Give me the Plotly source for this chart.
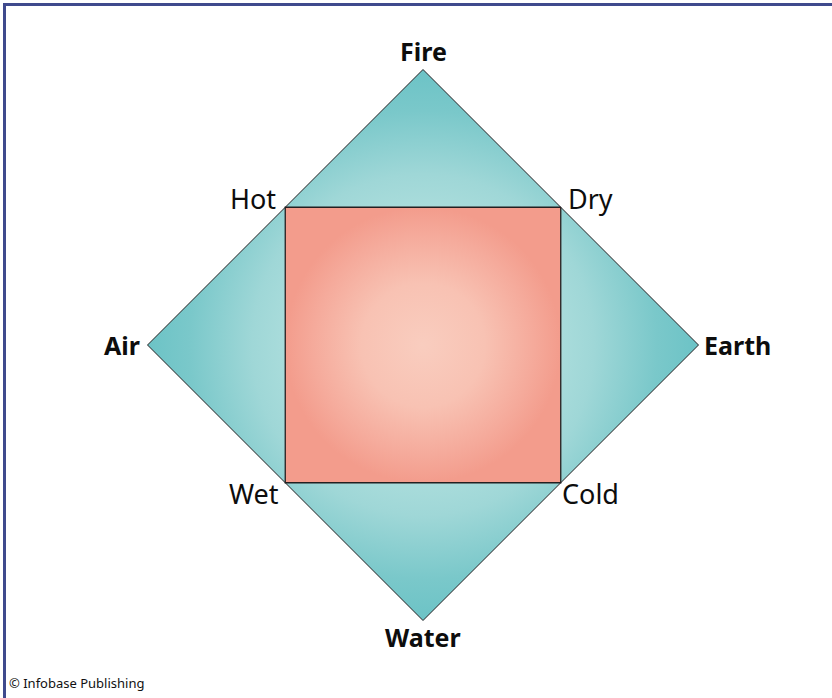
import numpy as np
import plotly.graph_objects as go

# --- data: the four elements at the diamond's vertices, four qualities at the square's corners
elements = ["Fire", "Earth", "Water", "Air"]
element_angles_deg = [90, 0, 270, 180]
qualities = ["Dry", "Cold", "Wet", "Hot"]
quality_angles_deg = [45, 315, 225, 135]
copyright_text = "© Infobase Publishing"

# unit geometry: diamond radius 1, square corners at the diamond's edge midpoints
R = 1.0
ea = np.radians(element_angles_deg)
ex = R * np.cos(ea)
ey = R * np.sin(ea)
qa = np.radians(quality_angles_deg)
qr = R / np.sqrt(2)
qx = qr * np.cos(qa)
qy = qr * np.sin(qa)

TEAL_SCALE = [[0.0, "#c9ecea"], [0.5, "#a9dcdb"], [0.62, "#9fd7d7"],
              [0.85, "#7ac8ca"], [1.0, "#6cc3c6"]]
SALMON_SCALE = [[0.0, "#f9cdbf"], [0.45, "#f8c2b3"], [0.8, "#f5aa9b"],
                [1.0, "#f39c8c"]]
LINE = "#231f20"

fig = go.Figure()
fig.add_trace(go.Scatter(
    x=list(ex) + [ex[0]], y=list(ey) + [ey[0]], mode="lines", fill="toself",
    fillgradient=dict(type="radial", colorscale=TEAL_SCALE),
    line=dict(color=LINE, width=1), hoverinfo="skip", showlegend=False))
fig.add_trace(go.Scatter(
    x=list(qx) + [qx[0]], y=list(qy) + [qy[0]], mode="lines", fill="toself",
    fillgradient=dict(type="radial", colorscale=SALMON_SCALE),
    line=dict(color=LINE, width=1.3), hoverinfo="skip", showlegend=False))

FONT = "Noto Sans"
# element labels (bold), placed outward from each vertex
for name, x, y, a in zip(elements, ex, ey, element_angles_deg):
    if a == 90:
        kw = dict(xanchor="center", yanchor="bottom", yshift=0)
    elif a == 270:
        kw = dict(xanchor="center", yanchor="top", yshift=3)
    elif a == 0:
        kw = dict(xanchor="left", yanchor="middle", xshift=3)
    else:
        kw = dict(xanchor="right", yanchor="middle", xshift=-6)
    fig.add_annotation(x=x, y=y, text="<b>%s</b>" % name, showarrow=False,
                       font=dict(family=FONT, size=25, color="#0d0d0d"), **kw)

# quality labels (regular), placed beside each square corner
q_xshift = {"Dry": 5, "Cold": -1, "Wet": -4, "Hot": -7}
for name, x, y, a in zip(qualities, qx, qy, quality_angles_deg):
    right = a in (45, 315)
    kw = dict(xanchor="left" if right else "right", xshift=q_xshift[name],
              yanchor="middle", yshift=9 if a in (45, 135) else -11)
    fig.add_annotation(x=x, y=y, text=name, showarrow=False,
                       font=dict(family=FONT, size=27, color="#0d0d0d"), **kw)

fig.add_annotation(xref="paper", yref="paper", x=0.008, y=1 - 683 / 698,
                   xanchor="left", yanchor="middle", text=copyright_text,
                   showarrow=False, font=dict(family=FONT, size=13, color="#111111"))

# frame lines (top and left)
BORDER = "#3f4a8d"
fig.add_shape(type="line", xref="paper", yref="paper", x0=4.5 / 832, x1=4.5 / 832,
              y0=0, y1=1 - 3 / 698, line=dict(color=BORDER, width=3))
fig.add_shape(type="line", xref="paper", yref="paper", x0=3 / 832, x1=1,
              y0=1 - 4.5 / 698, y1=1 - 4.5 / 698, line=dict(color=BORDER, width=3))

W, H = 832, 698
cx, cy, rad = 423.0, 345.0, 275.5
fig.update_layout(
    width=W, height=H, margin=dict(l=0, r=0, t=0, b=0),
    paper_bgcolor="white", plot_bgcolor="white",
    xaxis=dict(range=[-cx / rad, (W - cx) / rad], visible=False, fixedrange=True),
    yaxis=dict(range=[-(H - cy) / rad, cy / rad], visible=False, fixedrange=True),
)
fig.write_html("out.html", config={"displayModeBar": False},
               post_script="document.body.style.margin='0';document.body.style.overflow='hidden';")
